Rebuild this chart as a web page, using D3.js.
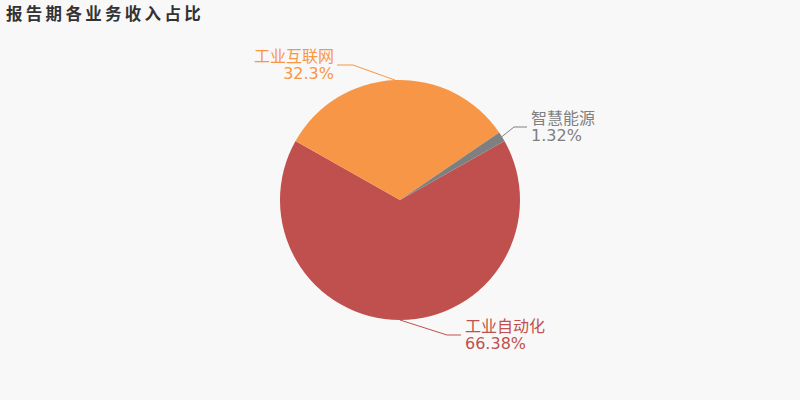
<!DOCTYPE html>
<html><head><meta charset="utf-8">
<script src="https://cdn.jsdelivr.net/npm/d3@7"></script>
<style>body{margin:0;background:#f8f8f8;}svg{display:block;}</style>
</head><body><svg id="c" width="800" height="400"></svg>
<script>
const categories = ["工业自动化", "工业互联网", "智慧能源"];
const values = [66.38, 32.3, 1.32];
const labels = ["66.38%", "32.3%", "1.32%"];
const colors = ["#c0504d", "#f79646", "#7f7f7f"];

const svg = d3.select("#c");
const font = "'DejaVu Sans','Noto Sans CJK SC',sans-serif";
svg.append("rect").attr("width",800).attr("height",400).attr("fill","#f8f8f8");
svg.append("text").attr("x",6).attr("y",20).text("报告期各业务收入占比")
  .attr("font-family","'Noto Sans CJK SC',sans-serif").attr("font-size",16.5).attr("font-weight","bold").attr("fill","#333").attr("letter-spacing",3.3);

const cx=400, cy=200, r=120;
const total = d3.sum(values);
const startA = Math.PI - (values[0]/total)*Math.PI; // largest slice centred at bottom
const pie = d3.pie().sort(null).value(d=>d).startAngle(startA).endAngle(startA+2*Math.PI);
const arcs = pie(values);
const arc = d3.arc().innerRadius(0).outerRadius(r);
const g = svg.append("g").attr("transform",`translate(${cx},${cy})`);
g.selectAll("path").data(arcs).enter().append("path").attr("d",arc).attr("fill",(d,i)=>colors[i]);

const lay = [
  {p2:[47,135], p3:[61,135], tx:65, anchor:"start"},
  {p2:[-47,-135], p3:[-63,-135], tx:-66, anchor:"end"},
  {p2:[114,-73], p3:[127,-73], tx:131, anchor:"start"}
];
arcs.forEach((d,i)=>{
  const mid=(d.startAngle+d.endAngle)/2;
  const e=[Math.sin(mid)*r, -Math.cos(mid)*r];
  const L=lay[i];
  g.append("polyline").attr("points",[e,L.p2,L.p3].map(p=>p.join(",")).join(" "))
    .attr("fill","none").attr("stroke",colors[i]).attr("stroke-width",1);
  const t=g.append("text").attr("text-anchor",L.anchor).attr("font-family",font).attr("font-size",16).attr("fill",colors[i]);
  t.append("tspan").attr("x",L.tx).attr("y",L.p2[1]-3.5).text(categories[i]);
  t.append("tspan").attr("x",L.tx).attr("y",L.p2[1]+14).text(labels[i]);
});
</script></body></html>
